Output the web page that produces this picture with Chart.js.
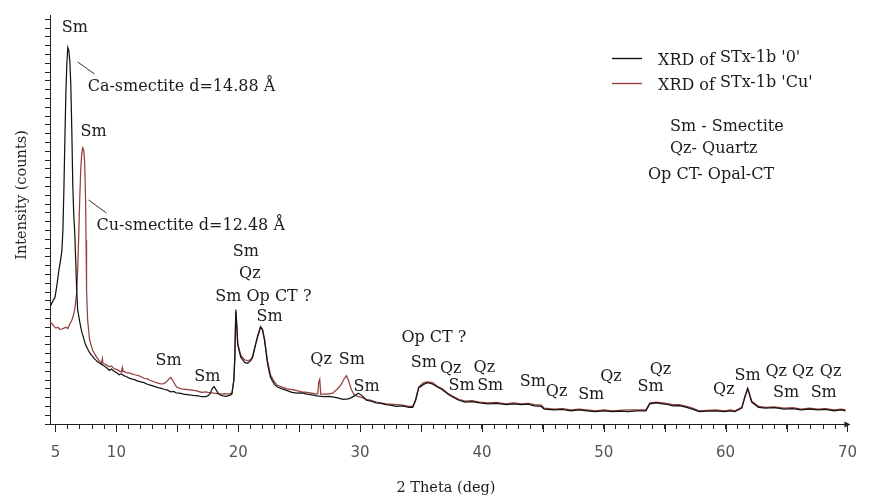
<!DOCTYPE html>
<html>
<head>
<meta charset="utf-8">
<script src="https://cdn.jsdelivr.net/npm/chart.js@4.4.1/dist/chart.umd.min.js"></script>
<style>
  html, body { margin: 0; padding: 0; background: #fff; }
  #wrap { width: 872px; height: 501px; }
</style>
</head>
<body>
<div id="wrap"><canvas id="xrd" width="872" height="501"></canvas></div>
<script>
// Diffractogram of STx-1b, untreated ('0') sample: 2-theta (deg) and intensity (counts)
const twoThetaCa = [
  4.55, 4.72, 4.96, 5.12, 5.28, 5.45, 5.53, 5.61, 5.69, 5.77,
  5.85, 5.93, 6.01, 6.09, 6.18, 6.26, 6.34, 6.42, 6.50, 6.58,
  6.66, 6.74, 6.82, 6.99, 7.15, 7.47, 7.80, 8.20, 8.61, 9.0,
  9.2, 9.42, 9.6, 9.8, 10.0, 10.23, 10.4, 10.6, 10.8, 11.0,
  11.29, 11.5, 11.7, 12.0, 12.26, 12.5, 12.7, 13.07, 13.3, 13.48,
  13.7, 13.9, 14.2, 14.45, 14.7, 14.9, 15.2, 15.5, 15.8, 16.0,
  16.3, 16.72, 17.0, 17.29, 17.5, 17.69, 17.85, 18.02, 18.18, 18.34,
  18.55, 18.75, 19.0, 19.15, 19.3, 19.48, 19.64, 19.72, 19.80, 19.88,
  19.96, 20.21, 20.53, 20.77, 21.02, 21.18, 21.42, 21.59, 21.83, 21.99,
  22.15, 22.40, 22.64, 22.96, 23.21, 23.6, 24.02, 24.4, 24.83, 25.2,
  25.64, 26.05, 26.45, 27.0, 27.5, 28.07, 28.6, 29.04, 29.29, 29.53,
  29.86, 30.18, 30.51, 30.9, 31.32, 31.7, 32.13, 32.5, 32.94, 33.5,
  34.0, 34.32, 34.56, 34.81, 35.21, 35.54, 35.94, 36.35, 36.75, 37.2,
  37.56, 38.1, 38.62, 39.2, 39.8, 40.49, 41.2, 42.0, 42.6, 43.24,
  43.8, 44.3, 44.86, 45.11, 45.92, 46.6, 47.3, 48.0, 48.60, 49.3,
  50.0, 50.7, 51.35, 52.0, 52.7, 53.46, 53.78, 54.3, 54.84, 55.3,
  55.65, 56.2, 56.8, 57.27, 57.84, 58.5, 59.2, 59.9, 60.4, 60.76,
  61.33, 61.57, 61.81, 61.97, 62.14, 62.70, 63.3, 64.0, 64.81, 65.5,
  66.2, 66.9, 67.57, 68.2, 68.9, 69.5, 69.84
];
const countsCa = [
  1330, 1380, 1440, 1580, 1750, 1890, 1980, 2210, 2660, 3230,
  3740, 4090, 4280, 4250, 4120, 3850, 3340, 2720, 2380, 2180,
  1860, 1520, 1300, 1160, 1050, 900, 810, 740, 690, 660,
  640, 610, 625, 600, 585, 560, 570, 550, 540, 525,
  510, 505, 490, 480, 470, 455, 445, 430, 420, 410,
  405, 395, 385, 365, 370, 355, 350, 340, 335, 330,
  325, 320, 310, 310, 320, 345, 400, 425, 390, 350,
  330, 320, 315, 320, 325, 340, 500, 760, 1300, 1130,
  900, 760, 700, 690, 720, 760, 900, 990, 1100, 1070,
  960, 690, 530, 450, 420, 400, 380, 360, 350, 355,
  340, 330, 320, 310, 315, 300, 280, 285, 300, 320,
  350, 320, 270, 260, 240, 235, 220, 215, 200, 205,
  190, 190, 270, 410, 450, 470, 455, 420, 390, 340,
  310, 270, 250, 255, 240, 230, 235, 220, 230, 220,
  225, 205, 200, 170, 160, 165, 150, 160, 150, 140,
  150, 140, 145, 140, 150, 150, 230, 240, 230, 220,
  205, 210, 190, 170, 140, 145, 150, 140, 150, 140,
  180, 300, 400, 330, 250, 190, 180, 185, 170, 175,
  160, 170, 160, 165, 150, 160, 150
];

// Diffractogram of the Cu-exchanged sample ('Cu')
const twoThetaCu = [
  4.55, 4.72, 4.88, 5.04, 5.20, 5.36, 5.53, 5.69, 5.85, 6.01,
  6.18, 6.34, 6.42, 6.58, 6.74, 6.82, 6.91, 6.99, 7.07, 7.15,
  7.23, 7.31, 7.39, 7.47, 7.51, 7.55, 7.64, 7.80, 8.04, 8.37,
  8.77, 8.85, 8.9, 9.1, 9.42, 9.6, 9.8, 10.1, 10.39, 10.48, 10.52, 10.6, 10.8, 11.0,
  11.29, 11.5, 11.8, 12.0, 12.26, 12.5, 12.7, 13.07, 13.3, 13.64,
  13.9, 14.12, 14.3, 14.45, 14.6, 14.69, 14.94, 15.34, 15.6, 15.9,
  16.2, 16.5, 17.0, 17.3, 17.53, 17.8, 18.02, 18.3, 18.6, 18.9,
  19.15, 19.48, 19.64, 19.72, 19.80, 19.88, 19.96, 20.21, 20.53, 20.77,
  21.02, 21.18, 21.42, 21.59, 21.83, 21.99, 22.15, 22.40, 22.64, 22.96,
  23.21, 23.6, 24.02, 24.4, 24.83, 25.2, 25.64, 26.05, 26.45, 26.53,
  26.61, 26.69, 26.77, 27.26, 27.75, 28.07, 28.40, 28.72, 28.88, 29.04,
  29.29, 29.53, 29.86, 30.18, 30.51, 30.9, 31.32, 31.7, 32.13, 32.5,
  32.94, 33.5, 34.0, 34.32, 34.56, 34.81, 35.21, 35.54, 35.94, 36.35,
  36.75, 37.2, 37.56, 38.1, 38.62, 39.2, 39.8, 40.49, 41.2, 42.0,
  42.6, 43.24, 43.8, 44.3, 44.86, 45.11, 45.92, 46.6, 47.3, 48.0,
  48.60, 49.3, 50.0, 50.7, 51.35, 52.0, 52.7, 53.46, 53.78, 54.3,
  54.84, 55.3, 55.65, 56.2, 56.8, 57.27, 57.84, 58.5, 59.2, 59.9,
  60.4, 60.76, 61.33, 61.57, 61.81, 61.97, 62.14, 62.70, 63.3, 64.0,
  64.81, 65.5, 66.2, 66.9, 67.57, 68.2, 68.9, 69.5, 69.84
];
const countsCu = [
  1160, 1140, 1110, 1090, 1100, 1075, 1080, 1090, 1100, 1085,
  1140, 1180, 1210, 1300, 1490, 1750, 2150, 2550, 2890, 3060,
  3140, 3120, 3000, 2550, 2090, 1520, 1180, 960, 840, 760,
  690, 745, 685, 680, 650, 660, 630, 615, 590, 640, 595, 600, 585, 580,
  570, 560, 550, 540, 520, 515, 500, 480, 470, 455,
  460, 480, 510, 530, 500, 480, 420, 400, 395, 390,
  385, 380, 360, 365, 360, 355, 350, 345, 340, 345,
  340, 350, 500, 760, 1270, 1110, 910, 780, 730, 720,
  730, 770, 910, 1000, 1110, 1080, 970, 720, 560, 480,
  440, 420, 400, 390, 380, 365, 360, 350, 340, 345,
  480, 510, 340, 340, 350, 390, 440, 520, 550, 500,
  390, 330, 310, 300, 280, 270, 250, 240, 230, 225,
  220, 215, 200, 200, 280, 420, 470, 480, 470, 430,
  400, 350, 320, 280, 260, 265, 250, 240, 245, 230,
  240, 230, 235, 220, 215, 180, 170, 175, 160, 170,
  160, 150, 160, 150, 155, 160, 160, 160, 240, 250,
  240, 230, 220, 220, 200, 180, 150, 155, 160, 150,
  160, 150, 190, 310, 410, 340, 260, 200, 190, 195,
  180, 185, 170, 180, 170, 175, 160, 170, 160
];

const seriesNames = ["XRD of STx-1b '0'", "XRD of STx-1b 'Cu'"];
const seriesColors = ['#141414', '#963f3c'];
const xTickLabels = [5, 10, 20, 30, 40, 50, 60, 70];
const xTitle = '2 Theta (deg)';
const yTitle = 'Intensity (counts)';
const phaseKey = ['Sm - Smectite', 'Qz- Quartz', 'Op CT- Opal-CT'];

// Phase assignments written next to the reflections (anchored in 2-theta / counts)
const peakLabels = [
  { text: 'Sm', at: [6.58, 4500] },
  { text: 'Ca-smectite d=14.88 Å', at: [7.64, 3830], align: 'left' },
  { text: 'Sm', at: [8.12, 3320] },
  { text: 'Cu-smectite d=12.48 Å', at: [8.37, 2250], align: 'left' },
  { text: 'Sm', at: [14.29, 716] },
  { text: 'Sm', at: [17.46, 534] },
  { text: 'Sm', at: [20.63, 1956] },
  { text: 'Qz', at: [20.95, 1706] },
  { text: 'Sm Op CT ?', at: [18.11, 1444], align: 'left' },
  { text: 'Sm', at: [22.58, 1217] },
  { text: 'Qz', at: [26.80, 728] },
  { text: 'Sm', at: [29.32, 728] },
  { text: 'Sm', at: [30.53, 421] },
  { text: 'Op CT ?', at: [36.06, 978] },
  { text: 'Sm', at: [35.24, 694] },
  { text: 'Qz', at: [37.44, 625] },
  { text: 'Qz', at: [40.20, 637] },
  { text: 'Sm', at: [38.33, 432] },
  { text: 'Sm', at: [40.68, 432] },
  { text: 'Sm', at: [44.18, 478] },
  { text: 'Qz', at: [46.13, 364] },
  { text: 'Sm', at: [48.97, 330] },
  { text: 'Qz', at: [50.59, 534] },
  { text: 'Qz', at: [54.65, 614] },
  { text: 'Sm', at: [53.84, 421] },
  { text: 'Qz', at: [59.85, 387] },
  { text: 'Sm', at: [61.80, 546] },
  { text: 'Qz', at: [64.15, 591] },
  { text: 'Qz', at: [66.34, 591] },
  { text: 'Qz', at: [68.62, 591] },
  { text: 'Sm', at: [64.96, 352] },
  { text: 'Sm', at: [68.05, 352] }
];
// Short pointer strokes from the basal peaks to their d-spacing notes
const leaderLines = [
  [[6.82, 4116], [8.20, 3980]],
  [[7.72, 2547], [9.18, 2399]]
];

const SERIF = '"DejaVu Serif", "Liberation Serif", serif';
const INK = '#1c1c1c';

const decorations = {
  id: 'decorations',
  afterDraw(chart) {
    const { ctx, chartArea: a, scales: { x, y } } = chart;
    ctx.save();

    // longer marks every 5 degrees on the 2-theta axis
    ctx.strokeStyle = '#222';
    ctx.lineWidth = 1;
    for (let v = 5; v <= 70; v += 5) {
      const px = Math.round(x.getPixelForValue(v)) + 0.5;
      ctx.beginPath();
      ctx.moveTo(px, a.bottom);
      ctx.lineTo(px, a.bottom + 8);
      ctx.stroke();
    }
    // arrow tip at the end of the 2-theta axis
    ctx.fillStyle = '#222';
    ctx.beginPath();
    ctx.moveTo(a.right + 3, a.bottom + 0.5);
    ctx.lineTo(a.right - 3, a.bottom - 2.5);
    ctx.lineTo(a.right - 3, a.bottom + 3.5);
    ctx.closePath();
    ctx.fill();

    // axis titles
    ctx.fillStyle = INK;
    ctx.textAlign = 'center';
    ctx.textBaseline = 'middle';
    ctx.font = '14.5px ' + SERIF;
    ctx.fillText(xTitle, 446, 488);
    ctx.save();
    ctx.translate(22, 195);
    ctx.rotate(-Math.PI / 2);
    ctx.fillText(yTitle, 0, 0);
    ctx.restore();

    // reflection labels
    ctx.font = '16px ' + SERIF;
    peakLabels.forEach(l => {
      ctx.textAlign = l.align || 'center';
      ctx.fillText(l.text, x.getPixelForValue(l.at[0]), y.getPixelForValue(l.at[1]));
    });
    ctx.strokeStyle = '#333';
    leaderLines.forEach(seg => {
      ctx.beginPath();
      ctx.moveTo(x.getPixelForValue(seg[0][0]), y.getPixelForValue(seg[0][1]));
      ctx.lineTo(x.getPixelForValue(seg[1][0]), y.getPixelForValue(seg[1][1]));
      ctx.stroke();
    });

    // series key
    ctx.textAlign = 'left';
    chart.data.datasets.forEach((ds, i) => {
      const ly = 58 + i * 25;
      ctx.strokeStyle = ds.borderColor;
      ctx.lineWidth = 1.4;
      ctx.beginPath();
      ctx.moveTo(612, ly + 0.5);
      ctx.lineTo(642, ly + 0.5);
      ctx.stroke();
      const head = 'XRD of ';
      ctx.fillStyle = INK;
      ctx.fillText(head, 658, ly + 3);
      const w = ctx.measureText(head).width;
      ctx.fillText(ds.label.slice(head.length), 658 + w, ly);
    });

    // phase abbreviations
    ctx.fillStyle = INK;
    ctx.fillText(phaseKey[0], 670, 127);
    ctx.fillText(phaseKey[1], 670, 149);
    ctx.fillText(phaseKey[2], 648, 175);

    ctx.restore();
  }
};

const toPoints = (xs, ys) => xs.map((v, i) => ({ x: v, y: ys[i] }));

new Chart(document.getElementById('xrd'), {
  type: 'scatter',
  data: {
    datasets: [
      {
        label: seriesNames[0],
        data: toPoints(twoThetaCa, countsCa),
        showLine: true,
        borderColor: seriesColors[0],
        borderWidth: 1.25,
        pointRadius: 0,
        tension: 0
      },
      {
        label: seriesNames[1],
        data: toPoints(twoThetaCu, countsCu),
        showLine: true,
        borderColor: seriesColors[1],
        borderWidth: 1.25,
        pointRadius: 0,
        tension: 0
      }
    ]
  },
  options: {
    responsive: false,
    animation: false,
    events: [],
    layout: { padding: { top: 15, right: 16, left: 0, bottom: 0 } },
    plugins: { legend: { display: false }, tooltip: { enabled: false } },
    scales: {
      x: {
        type: 'linear',
        min: 4.55,
        max: 70,
        afterFit(scale) { scale.height = 77; },
        border: { color: '#222', width: 1 },
        grid: { drawOnChartArea: false, tickLength: 5, tickColor: '#222' },
        ticks: {
          stepSize: 1,
          includeBounds: false,
          autoSkip: false,
          maxRotation: 0,
          padding: 15,
          color: '#555',
          font: { family: '"DejaVu Sans", sans-serif', size: 15 },
          callback: v => (xTickLabels.includes(v) ? String(v) : '')
        }
      },
      y: {
        type: 'linear',
        min: 0,
        max: 4650,
        afterFit(scale) { scale.width = 50; },
        border: { color: '#222', width: 1 },
        grid: { drawOnChartArea: false, tickLength: 5, tickColor: '#222' },
        ticks: { stepSize: 100, includeBounds: false, display: false }
      }
    }
  },
  plugins: [decorations]
});
</script>
</body>
</html>
